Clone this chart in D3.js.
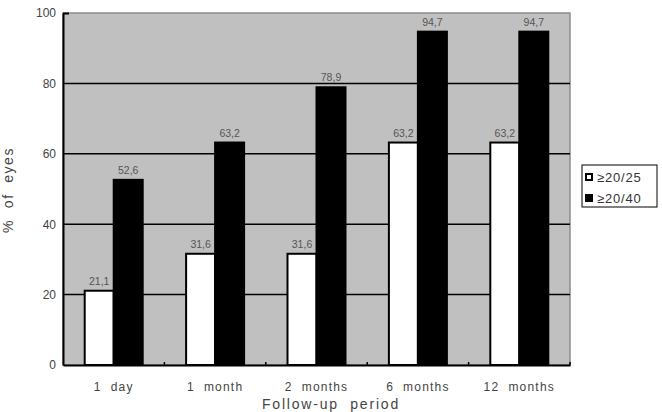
<!DOCTYPE html>
<html>
<head>
<meta charset="utf-8">
<script src="https://cdn.jsdelivr.net/npm/d3@7"></script>
<style>
  html, body { margin: 0; padding: 0; background: #fff; }
  svg { display: block; }
  text { font-family: "Liberation Sans", Arial, sans-serif; }
</style>
</head>
<body>
<svg id="chart" width="662" height="412"></svg>
<script>
const categories = ["1 day", "1 month", "2 months", "6 months", "12 months"];
const seriesNames = ["≥20/25", "≥20/40"];
const series2025 = [21.1, 31.6, 31.6, 63.2, 63.2];
const series2040 = [52.6, 63.2, 78.9, 94.7, 94.7];
const yTicks = [0, 20, 40, 60, 80, 100];
const seriesFill = ["#ffffff", "#000000"];

(function () {
const svg = d3.select("#chart");
const pLeft = 63, pRight = 570, pTop = 13, pBottom = 365;

const x = d3.scaleBand().domain(categories).range([pLeft, pRight]).paddingInner(0).paddingOuter(0);
const x1 = d3.scaleBand().domain(seriesNames).range([0, 58]);
const y = d3.scaleLinear().domain([0, 100]).range([pBottom, pTop]);

// plot background
svg.append("rect").attr("x", pLeft).attr("y", pTop).attr("width", pRight - pLeft).attr("height", pBottom - pTop)
  .attr("fill", "#c0c0c0").attr("stroke", "#8c8c8c").attr("stroke-width", 1.5);

// gridlines
svg.append("g").selectAll("line").data(yTicks.filter(d => d > 0 && d < 100)).join("line")
  .attr("x1", pLeft).attr("x2", pRight).attr("y1", d => y(d)).attr("y2", d => y(d))
  .attr("stroke", "#000").attr("stroke-width", 1.5);

// bars
const data = categories.map((c, i) => ({ c, vals: [series2025[i], series2040[i]] }));
const groups = svg.append("g").selectAll("g").data(data).join("g")
  .attr("transform", d => `translate(${x(d.c) + x.bandwidth() / 2 - 29},0)`);
groups.selectAll("rect").data(d => d.vals.map((v, j) => ({ v, j }))).join("rect")
  .attr("x", d => x1(seriesNames[d.j]))
  .attr("y", d => y(d.v))
  .attr("width", x1.bandwidth())
  .attr("height", d => pBottom - y(d.v))
  .attr("fill", d => seriesFill[d.j])
  .attr("stroke", "#000").attr("stroke-width", 2);
groups.selectAll("text").data(d => d.vals.map((v, j) => ({ v, j }))).join("text")
  .attr("x", d => x1(seriesNames[d.j]) + x1.bandwidth() / 2)
  .attr("y", d => y(d.v) - 6)
  .attr("text-anchor", "middle")
  .attr("font-size", 10.5).attr("fill", "#555")
  .text(d => d.v.toFixed(1).replace(".", ","));

// y axis
const yAxis = svg.append("g").attr("transform", `translate(${pLeft},0)`)
  .call(d3.axisLeft(y).tickValues(yTicks).tickSize(0).tickPadding(7).tickFormat(d3.format("d")));
yAxis.select(".domain").attr("stroke", "#000").attr("stroke-width", 2);
yAxis.selectAll("text").attr("font-size", 12).attr("fill", "#444").attr("font-family", "Liberation Sans, Arial, sans-serif");
yAxis.selectAll(".tick").filter(d => d === 100).append("line")
  .attr("x1", 0).attr("x2", 6).attr("stroke", "#000").attr("stroke-width", 2);

// x axis
const xAxis = svg.append("g").attr("transform", `translate(0,${pBottom})`)
  .call(d3.axisBottom(x).tickSize(0).tickPadding(17));
xAxis.select(".domain").attr("stroke", "#000").attr("stroke-width", 2);
xAxis.selectAll("text").attr("font-size", 12).attr("fill", "#444").attr("letter-spacing", "1.2px")
  .attr("font-family", "Liberation Sans, Arial, sans-serif")
  .text(d => d.replace(" ", "  ")).style("white-space", "pre");
// small boundary ticks
svg.append("g").selectAll("line").data(categories.slice(1).concat(["end"])).join("line")
  .attr("x1", d => d === "end" ? pRight : x(d)).attr("x2", d => d === "end" ? pRight : x(d))
  .attr("y1", pBottom).attr("y2", pBottom - 3).attr("stroke", "#000").attr("stroke-width", 1.5);

// axis titles
svg.append("text").attr("transform", "translate(13,190) rotate(-90)").attr("text-anchor", "middle")
  .attr("font-size", 14).attr("fill", "#444").attr("letter-spacing", "1.5px").style("white-space", "pre")
  .text("%  of  eyes");
svg.append("text").attr("x", 331).attr("y", 409).attr("text-anchor", "middle")
  .attr("font-size", 14).attr("fill", "#444").attr("letter-spacing", "1.8px").style("white-space", "pre")
  .text("Follow-up  period");

// legend
const lg = svg.append("g").attr("transform", "translate(582,165)");
lg.append("rect").attr("x", 0).attr("y", 0).attr("width", 75).attr("height", 42)
  .attr("fill", "#fff").attr("stroke", "#000").attr("stroke-width", 1);
seriesNames.forEach((n, i) => {
  lg.append("rect").attr("x", 4).attr("y", 9 + i * 21).attr("width", 6).attr("height", 6)
    .attr("fill", seriesFill[i]).attr("stroke", "#000").attr("stroke-width", 2);
  lg.append("text").attr("x", 15).attr("y", 17 + i * 21).attr("font-size", 13).attr("fill", "#333")
    .attr("letter-spacing", "0.8px")
    .text(n);
});
})();
</script>
</body>
</html>
